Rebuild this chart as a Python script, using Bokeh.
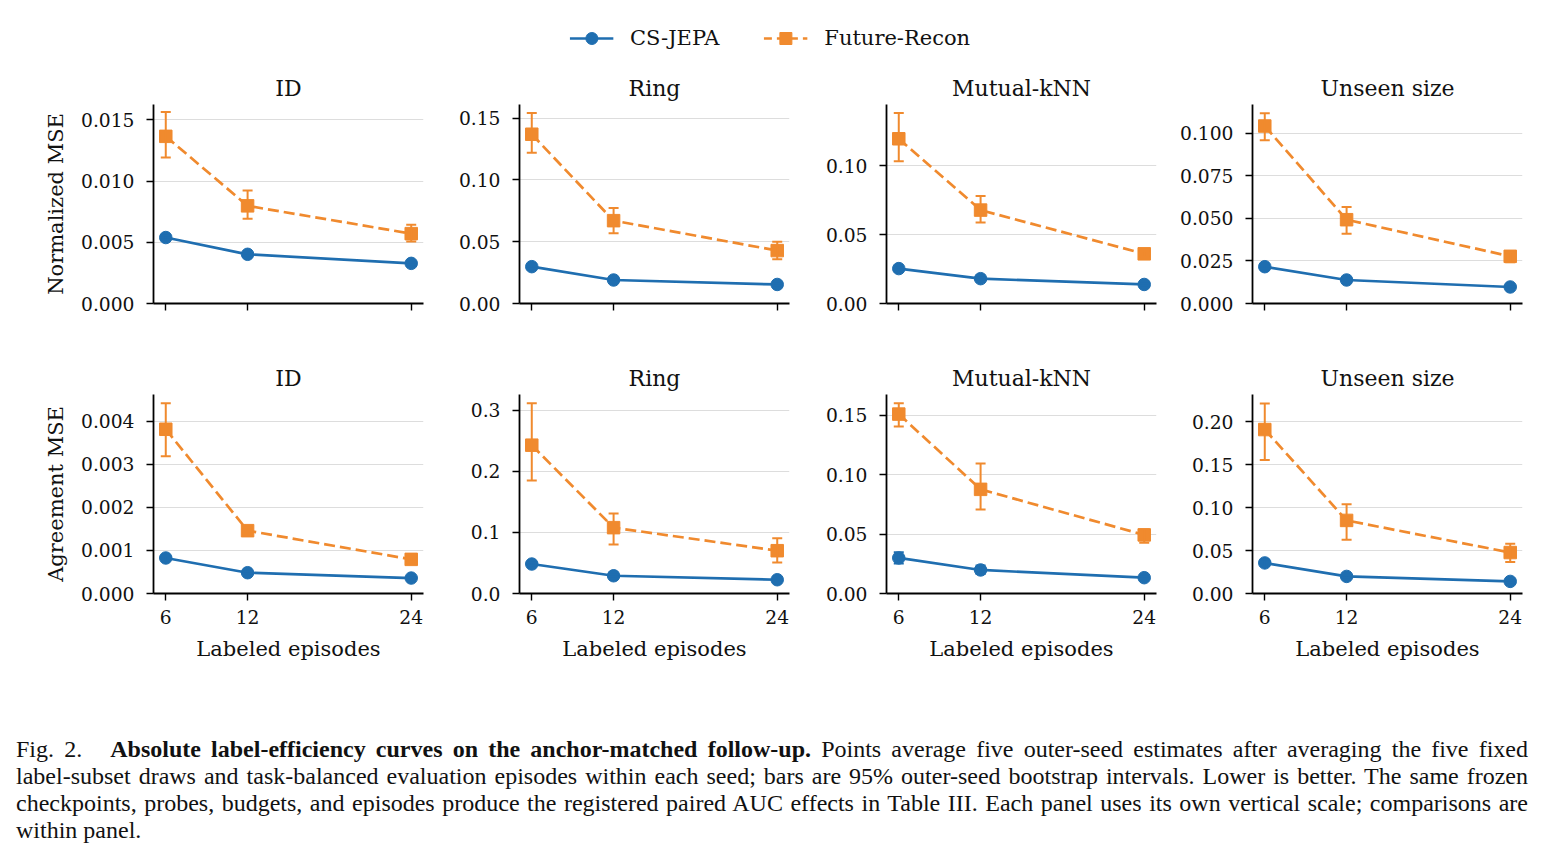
from bokeh.plotting import figure
from bokeh.models import (Whisker, TeeHead, ColumnDataSource, FixedTicker, PrintfTickFormatter,
                          Legend, LegendItem, Range1d, Div)
from bokeh.layouts import column, row
from bokeh.embed import file_html
from bokeh.resources import INLINE

# ---------------- data ----------------
episodes = [6, 12, 24]
categories = ["ID", "Ring", "Mutual-kNN", "Unseen size"]
row_labels = ["Normalized MSE", "Agreement MSE"]
series_names = ["CS-JEPA", "Future-Recon"]

# Normalized MSE (top row)
cs_norm = [[0.00539, 0.00402, 0.00328], [0.0298, 0.0190, 0.0154], [0.0253, 0.0180, 0.0138], [0.0216, 0.0138, 0.0097]]
cs_norm_lo = [[0.00520, 0.00392, 0.00320], [0.0285, 0.0183, 0.0148], [0.0243, 0.0173, 0.0132], [0.0206, 0.0132, 0.0092]]
cs_norm_hi = [[0.00558, 0.00412, 0.00336], [0.0311, 0.0197, 0.0160], [0.0263, 0.0187, 0.0144], [0.0226, 0.0144, 0.0102]]
fr_norm = [[0.01366, 0.00798, 0.00571], [0.1369, 0.0670, 0.0428], [0.1194, 0.0677, 0.0360], [0.1042, 0.0492, 0.0277]]
fr_norm_lo = [[0.01194, 0.00692, 0.00506], [0.1220, 0.0569, 0.0358], [0.1031, 0.0587, 0.0340], [0.0958, 0.0409, 0.0242]]
fr_norm_hi = [[0.01564, 0.00924, 0.00643], [0.1540, 0.0772, 0.0499], [0.1380, 0.0779, 0.0380], [0.1117, 0.0566, 0.0301]]

# Agreement MSE (bottom row)
cs_agr = [[0.000825, 0.000483, 0.000359], [0.0482, 0.0290, 0.0225], [0.0299, 0.0198, 0.0133], [0.0356, 0.0199, 0.0141]]
cs_agr_lo = [[0.00078, 0.00046, 0.00034], [0.0455, 0.0275, 0.0212], [0.0253, 0.0163, 0.0122], [0.0320, 0.0183, 0.0130]]
cs_agr_hi = [[0.00087, 0.00051, 0.00038], [0.0510, 0.0305, 0.0238], [0.0346, 0.0235, 0.0145], [0.0392, 0.0215, 0.0152]]
fr_agr = [[0.003816, 0.00146, 0.000793], [0.2426, 0.1077, 0.0700], [0.1509, 0.0876, 0.0493], [0.1909, 0.0851, 0.0477]]
fr_agr_lo = [[0.00319, 0.00140, 0.00074], [0.1850, 0.0803, 0.0508], [0.1405, 0.0707, 0.0426], [0.1554, 0.0625, 0.0368]]
fr_agr_hi = [[0.00442, 0.00153, 0.00085], [0.3110, 0.1307, 0.0902], [0.1600, 0.1093, 0.0538], [0.2213, 0.1039, 0.0578]]

# y tick labels per panel
yticks_norm = [[0, 0.005, 0.010, 0.015], [0, 0.05, 0.10, 0.15], [0, 0.05, 0.10], [0, 0.025, 0.050, 0.075, 0.100]]
yfmt_norm = ["%.3f", "%.2f", "%.2f", "%.3f"]
yticks_agr = [[0, 0.001, 0.002, 0.003, 0.004], [0, 0.1, 0.2, 0.3], [0, 0.05, 0.10, 0.15], [0, 0.05, 0.10, 0.15, 0.20]]
yfmt_agr = ["%.3f", "%.1f", "%.2f", "%.2f"]

caption_lines = [
    ("Fig. 2.", "Absolute label-efficiency curves on the anchor-matched follow-up.",
     " Points average five outer-seed estimates after averaging the five fixed"),
    "label-subset draws and task-balanced evaluation episodes within each seed; bars are 95% outer-seed bootstrap intervals. Lower is better. The same frozen",
    "checkpoints, probes, budgets, and episodes produce the registered paired AUC effects in Table III. Each panel uses its own vertical scale; comparisons are",
    "within panel.",
]

# ---------------- style ----------------
BLUE = "#1f6eb0"
ORANGE = "#f08a2e"
FONT = "DejaVu Serif"
FRAME_W, FRAME_H = 270, 199
LEFTS = [153, 79, 80, 79]
RIGHT = 17
TOP_B = 40

xspan = max(episodes) - min(episodes)
x_range_lo = min(episodes) - 0.05 * xspan
x_range_hi = max(episodes) + 0.05 * xspan


def make_panel(r, c, cs, cs_lo, cs_hi, fr, fr_lo, fr_hi, yticks, yfmt):
    bottom_b = 51 if r == 0 else 138
    lo_min = min(min(cs_lo), min(fr_lo))
    hi_max = max(max(cs_hi), max(fr_hi))
    ytop = hi_max + 0.05 * (hi_max - lo_min)
    p = figure(width=LEFTS[c] + FRAME_W + RIGHT, height=TOP_B + FRAME_H + bottom_b,
               min_border_left=LEFTS[c], min_border_right=RIGHT,
               min_border_top=TOP_B, min_border_bottom=bottom_b,
               x_range=Range1d(x_range_lo, x_range_hi), y_range=Range1d(0, ytop),
               output_backend="svg", toolbar_location=None, title=categories[c])
    p.title.align = "center"
    p.title.text_font = FONT
    p.title.text_font_size = "22px"
    p.title.text_font_style = "normal"
    p.title.text_color = "#111111"
    p.title.standoff = 7
    p.outline_line_color = None
    p.background_fill_color = "white"
    p.border_fill_color = "white"
    p.xgrid.visible = False
    p.ygrid.ticker = FixedTicker(ticks=yticks)
    p.ygrid.grid_line_color = "#dddddd"
    p.ygrid.grid_line_width = 1

    for ax in (p.xaxis[0], p.yaxis[0]):
        ax.axis_line_width = 1.8
        ax.axis_line_color = "black"
        ax.major_tick_line_width = 1.4
        ax.major_tick_out = 7
        ax.major_tick_in = 0
        ax.minor_tick_out = 0
        ax.minor_tick_in = 0
        ax.major_label_text_font = FONT
        ax.major_label_text_font_size = "18.7px"
        ax.major_label_text_color = "#111111"
        ax.axis_label_text_font = FONT
        ax.axis_label_text_font_size = "21px"
        ax.axis_label_text_font_style = "normal"
        ax.axis_label_text_color = "#111111"

    p.xaxis.ticker = FixedTicker(ticks=episodes)
    p.xaxis.major_label_standoff = 9
    if r == 0:
        p.xaxis.major_label_overrides = {e: "" for e in episodes}
    else:
        p.xaxis.axis_label = "Labeled episodes"
        p.xaxis.axis_label_standoff = 10
    p.yaxis.ticker = FixedTicker(ticks=yticks)
    p.yaxis.formatter = PrintfTickFormatter(format=yfmt)
    p.yaxis.major_label_standoff = 12
    if c == 0:
        p.yaxis.axis_label = row_labels[r]
        p.yaxis.axis_label_standoff = 10

    for vals, lo, hi, color, marker, dash, msize in (
            (cs, cs_lo, cs_hi, BLUE, "circle", "solid", 12.5),
            (fr, fr_lo, fr_hi, ORANGE, "square", "11 5", 12.5)):
        src = ColumnDataSource(dict(x=episodes, y=vals, lo=lo, hi=hi))
        w = Whisker(base="x", lower="lo", upper="hi", source=src, dimension="height",
                    line_color=color, line_width=2,
                    upper_head=TeeHead(size=10, line_color=color, line_width=2),
                    lower_head=TeeHead(size=10, line_color=color, line_width=2))
        w.level = "glyph"
        p.add_layout(w)
        p.line("x", "y", source=src, line_color=color, line_width=2.7, line_dash=dash)
        p.scatter("x", "y", source=src, marker=marker, size=msize, fill_color=color, line_color=color)
    return p


top_row = [make_panel(0, c, cs_norm[c], cs_norm_lo[c], cs_norm_hi[c], fr_norm[c], fr_norm_lo[c],
                      fr_norm_hi[c], yticks_norm[c], yfmt_norm[c]) for c in range(4)]
bot_row = [make_panel(1, c, cs_agr[c], cs_agr_lo[c], cs_agr_hi[c], fr_agr[c], fr_agr_lo[c],
                      fr_agr_hi[c], yticks_agr[c], yfmt_agr[c]) for c in range(4)]

total_w = sum(LEFTS) + 4 * (FRAME_W + RIGHT)

# ---------------- legend ----------------
lp = figure(width=total_w, height=64, x_axis_type=None, y_axis_type=None, min_border=0,
            x_range=Range1d(0, 1), y_range=Range1d(0, 1),
            output_backend="svg", toolbar_location=None)
lp.outline_line_color = None
lp.grid.visible = False
# off-canvas proxies: only their legend glyphs are shown
r1 = lp.line(x=[-5, -4], y=[-5, -5], line_color=BLUE, line_width=2.7)
r2 = lp.scatter(x=[-5], y=[-5], marker="circle", size=12, fill_color=BLUE, line_color=BLUE)
r3 = lp.line(x=[-5, -4], y=[-5, -5], line_color=ORANGE, line_width=2.7, line_dash="8 5")
r4 = lp.scatter(x=[-5], y=[-5], marker="square", size=12, fill_color=ORANGE, line_color=ORANGE)
legend = Legend(items=[LegendItem(label=series_names[0], renderers=[r1, r2]),
                       LegendItem(label=series_names[1], renderers=[r3, r4])],
                orientation="horizontal", location="top_center",
                border_line_color=None, background_fill_alpha=0,
                label_text_font=FONT, label_text_font_size="21px", label_text_color="#111111",
                glyph_width=44, glyph_height=30, label_standoff=17, spacing=44,
                padding=0, margin=23)
lp.add_layout(legend, "center")

# ---------------- caption ----------------
l1 = caption_lines[0]
line_style = "text-align:justify;text-align-last:justify;white-space:nowrap;"
html = ("<div style=\"margin-left:11px;width:1512px;font-family:'Liberation Serif';font-size:24px;"
        "line-height:27px;color:#111;\">"
        f"<div style=\"{line_style}\"><span style=\"margin-right:28px\">{l1[0]}</span>"
        f"<b>{l1[1]}</b>{l1[2]}</div>"
        f"<div style=\"{line_style}\">{caption_lines[1]}</div>"
        f"<div style=\"{line_style}\">{caption_lines[2]}</div>"
        f"<div style=\"text-align:left;\">{caption_lines[3]}</div>"
        "</div>")
cap = Div(text=html, width=total_w, height=110)

layout = column(lp, row(*top_row), row(*bot_row), cap)

with open("out.html", "w") as f:
    f.write(file_html(layout, INLINE))
